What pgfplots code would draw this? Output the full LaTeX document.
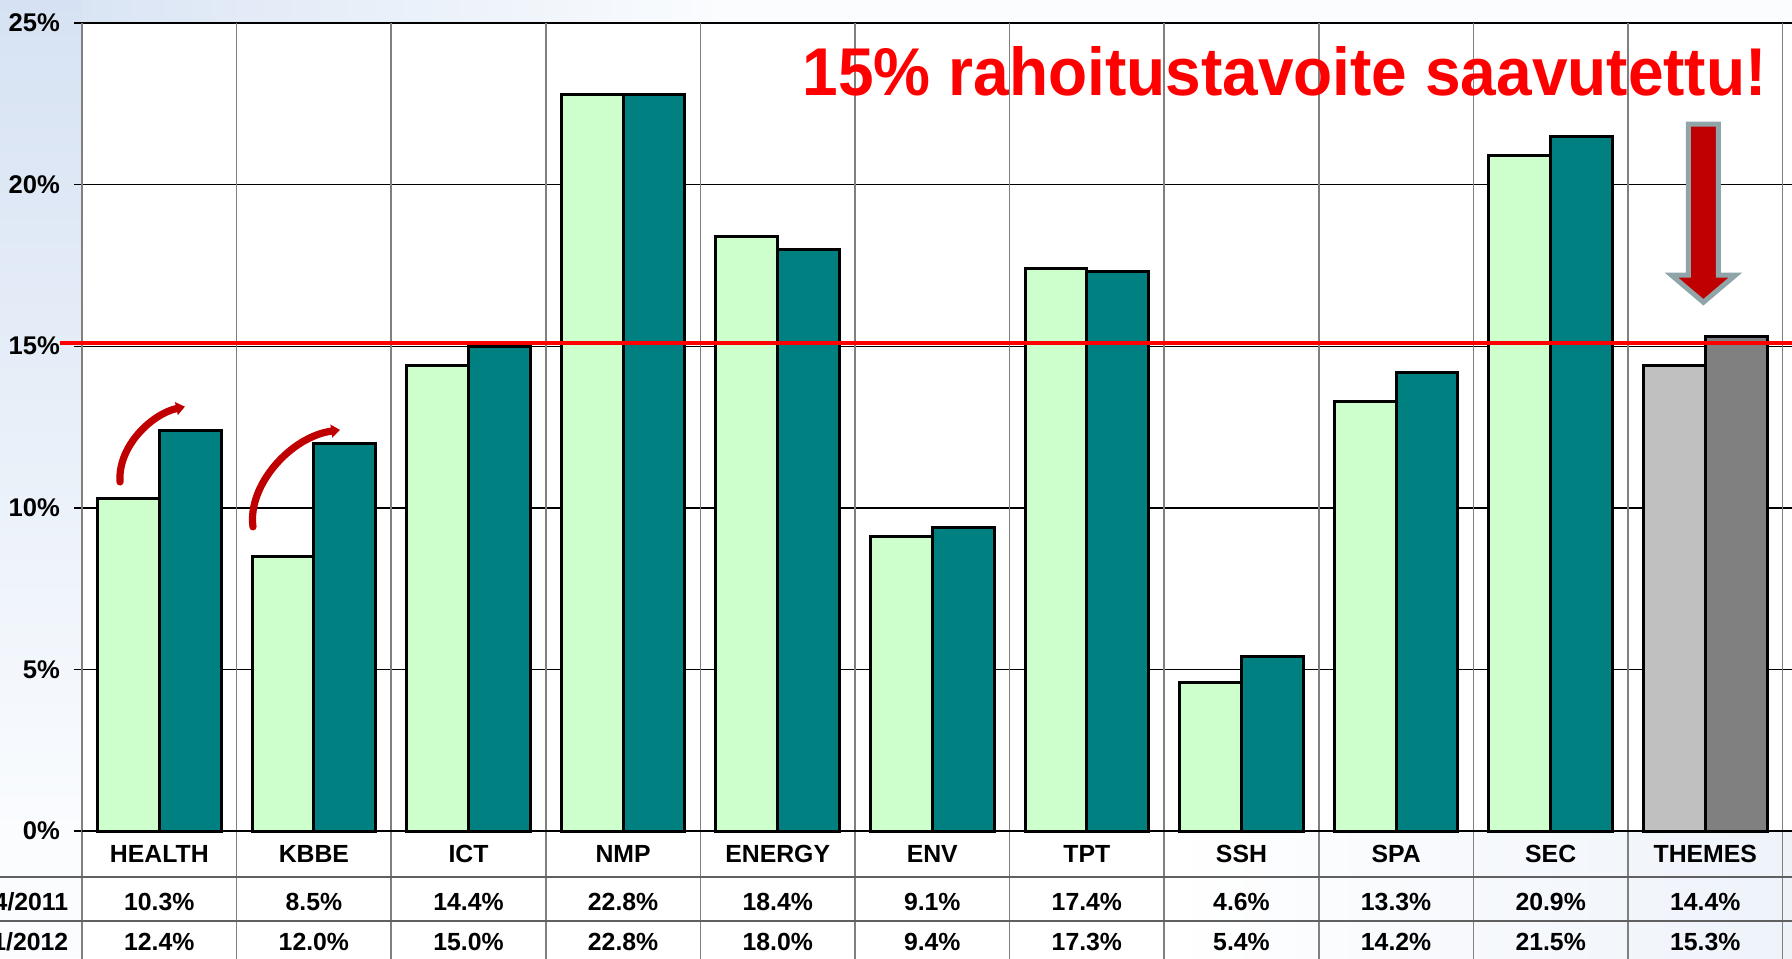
\documentclass[border=0pt]{standalone}
\usepackage{fontspec}
\setmainfont{Liberation Sans}
\usepackage{graphicx}
\usepackage{pgfplots}
\pgfplotsset{compat=1.18}
\usetikzlibrary{arrows.meta}
\definecolor{lgreen}{RGB}{204,255,204}
\definecolor{teal2}{RGB}{0,128,128}
\definecolor{lgray}{RGB}{192,192,192}
\definecolor{dgray}{RGB}{128,128,128}
\definecolor{tline}{RGB}{96,96,96}
\definecolor{darr}{RGB}{192,0,0}
\definecolor{arrowedge}{RGB}{143,165,168}
\definecolor{bgblue}{RGB}{214,226,243}
\definecolor{tblue}{RGB}{238,243,250}
\definecolor{offwhite}{RGB}{250,252,254}
\newcommand\tf{\fontsize{6.2}{7.4}\selectfont\bfseries}
\begin{document}
\begin{tikzpicture}[font=\tf]
\useasboundingbox (-20.5pt,-31.75pt) rectangle (427.5pt,207.75pt);
\clip (-20.5pt,-31.75pt) rectangle (427.5pt,207.75pt);
\fill[offwhite] (-20.5pt,-31.75pt) rectangle (427.5pt,207.75pt);
\shade[left color=bgblue, right color=offwhite] (-20.5pt,202pt) rectangle (160pt,207.75pt);
\shade[top color=bgblue, bottom color=offwhite] (-20.5pt,0pt) rectangle (0pt,207.75pt);
\begin{axis}[
  at={(0,0)}, anchor=south west,
  scale only axis, width=427.5pt, height=202pt,
  xmin=-0.5, xmax=10.561, ymin=0, ymax=25,
  clip=false,
  axis line style={draw=none},
  axis background/.style={fill=white},
  xtick=\empty,
  extra x ticks={-0.5,0.5,1.5,2.5,3.5,4.5,5.5,6.5,7.5,8.5,9.5,10.5},
  extra x tick labels={},
  extra x tick style={grid=major, major grid style={draw=dgray, line width=0.4pt}, major tick length=0pt},
  ytick={0,5,10,15,20,25},
  yticklabels={0\%,5\%,10\%,15\%,20\%,25\%},
  ymajorgrids, y grid style={black, line width=0.35pt},
  tick align=outside, major tick length=2pt,
  ytick style={black, line width=0.35pt},
  yticklabel style={font=\fontsize{6.4}{7.6}\selectfont\bfseries},
]
% table cell backgrounds
\fill[white] (axis cs:-0.5,0) rectangle (axis cs:6.5,-4);
\shade[left color=white, right color=tblue] (axis cs:6.5,0) rectangle (axis cs:10.561,-4);

\addplot[ybar, bar width=0.4, bar shift=-0.2, fill=lgreen, draw=black, line width=0.75pt]
  coordinates {(0,10.3) (1,8.5) (2,14.4) (3,22.8) (4,18.4) (5,9.1) (6,17.4) (7,4.6) (8,13.3) (9,20.9)};
\addplot[ybar, bar width=0.4, bar shift=0.2, fill=teal2, draw=black, line width=0.75pt]
  coordinates {(0,12.4) (1,12.0) (2,15.0) (3,22.8) (4,18.0) (5,9.4) (6,17.3) (7,5.4) (8,14.2) (9,21.5)};
\addplot[ybar, bar width=0.4, bar shift=-0.2, fill=lgray, draw=black, line width=0.75pt]
  coordinates {(10,14.4)};
\addplot[ybar, bar width=0.4, bar shift=0.2, fill=dgray, draw=black, line width=0.75pt]
  coordinates {(10,15.3)};

% table grid
\pgfplotsinvokeforeach{-0.5,0.5,1.5,2.5,3.5,4.5,5.5,6.5,7.5,8.5,9.5,10.5}{
  \draw[dgray, line width=0.4pt] (axis cs:#1,0) -- (axis cs:#1,-4);
}
\draw[tline, line width=0.4pt] (axis cs:-1.1,-1.42) -- (axis cs:10.6,-1.42);
\draw[tline, line width=0.4pt] (axis cs:-1.1,-2.78) -- (axis cs:10.6,-2.78);
\draw[black, line width=0.35pt] (axis cs:-0.5,0) -- (axis cs:10.6,0);

% category labels
\node at (axis cs:0,-0.71) {HEALTH};
\node at (axis cs:1,-0.71) {KBBE};
\node at (axis cs:2,-0.71) {ICT};
\node at (axis cs:3,-0.71) {NMP};
\node at (axis cs:4,-0.71) {ENERGY};
\node at (axis cs:5,-0.71) {ENV};
\node at (axis cs:6,-0.71) {TPT};
\node at (axis cs:7,-0.71) {SSH};
\node at (axis cs:8,-0.71) {SPA};
\node at (axis cs:9,-0.71) {SEC};
\node at (axis cs:10,-0.71) {THEMES};
% row labels (cut off at the left edge, as in the reference)
\node[anchor=east, inner sep=0pt] at (axis cs:-0.584,-2.2) {4/2011};
\node[anchor=east, inner sep=0pt] at (axis cs:-0.584,-3.43) {1/2012};
% values 2011
\node at (axis cs:0,-2.2) {10.3\%};
\node at (axis cs:1,-2.2) {8.5\%};
\node at (axis cs:2,-2.2) {14.4\%};
\node at (axis cs:3,-2.2) {22.8\%};
\node at (axis cs:4,-2.2) {18.4\%};
\node at (axis cs:5,-2.2) {9.1\%};
\node at (axis cs:6,-2.2) {17.4\%};
\node at (axis cs:7,-2.2) {4.6\%};
\node at (axis cs:8,-2.2) {13.3\%};
\node at (axis cs:9,-2.2) {20.9\%};
\node at (axis cs:10,-2.2) {14.4\%};
% values 2012
\node at (axis cs:0,-3.43) {12.4\%};
\node at (axis cs:1,-3.43) {12.0\%};
\node at (axis cs:2,-3.43) {15.0\%};
\node at (axis cs:3,-3.43) {22.8\%};
\node at (axis cs:4,-3.43) {18.0\%};
\node at (axis cs:5,-3.43) {9.4\%};
\node at (axis cs:6,-3.43) {17.3\%};
\node at (axis cs:7,-3.43) {5.4\%};
\node at (axis cs:8,-3.43) {14.2\%};
\node at (axis cs:9,-3.43) {21.5\%};
\node at (axis cs:10,-3.43) {15.3\%};

% curved arrows
\draw[darr, line width=1.8pt, line cap=round, -{Triangle[length=2.2pt,width=3.2pt]}]
  (axis cs:-0.254,10.8) .. controls (axis cs:-0.27,11.9) and (axis cs:-0.05,12.9) .. (axis cs:0.166,13.13);
\draw[darr, line width=1.8pt, line cap=round, -{Triangle[length=2.2pt,width=3.2pt]}]
  (axis cs:0.606,9.41) .. controls (axis cs:0.57,10.7) and (axis cs:0.85,12.2) .. (axis cs:1.169,12.41);

% big arrow
\filldraw[fill=darr, draw=arrowedge, line width=1.25pt, line join=miter]
  (axis cs:9.891,21.87) -- (axis cs:10.085,21.87) -- (axis cs:10.085,17.2) -- (axis cs:10.195,17.2)
  -- (axis cs:9.988,16.36) -- (axis cs:9.781,17.2) -- (axis cs:9.891,17.2) -- cycle;

% title
\node[inner sep=0pt, text=red] at (axis cs:7.28,23.52)
  {\resizebox{241pt}{12.25pt}{\fontsize{20}{24}\selectfont\bfseries 15\% rahoitustavoite saavutettu!}};

% 15% target line
\addplot[red, line width=1pt] coordinates {(-0.642,15.1) (10.6,15.1)};
\end{axis}
\end{tikzpicture}
\end{document}
